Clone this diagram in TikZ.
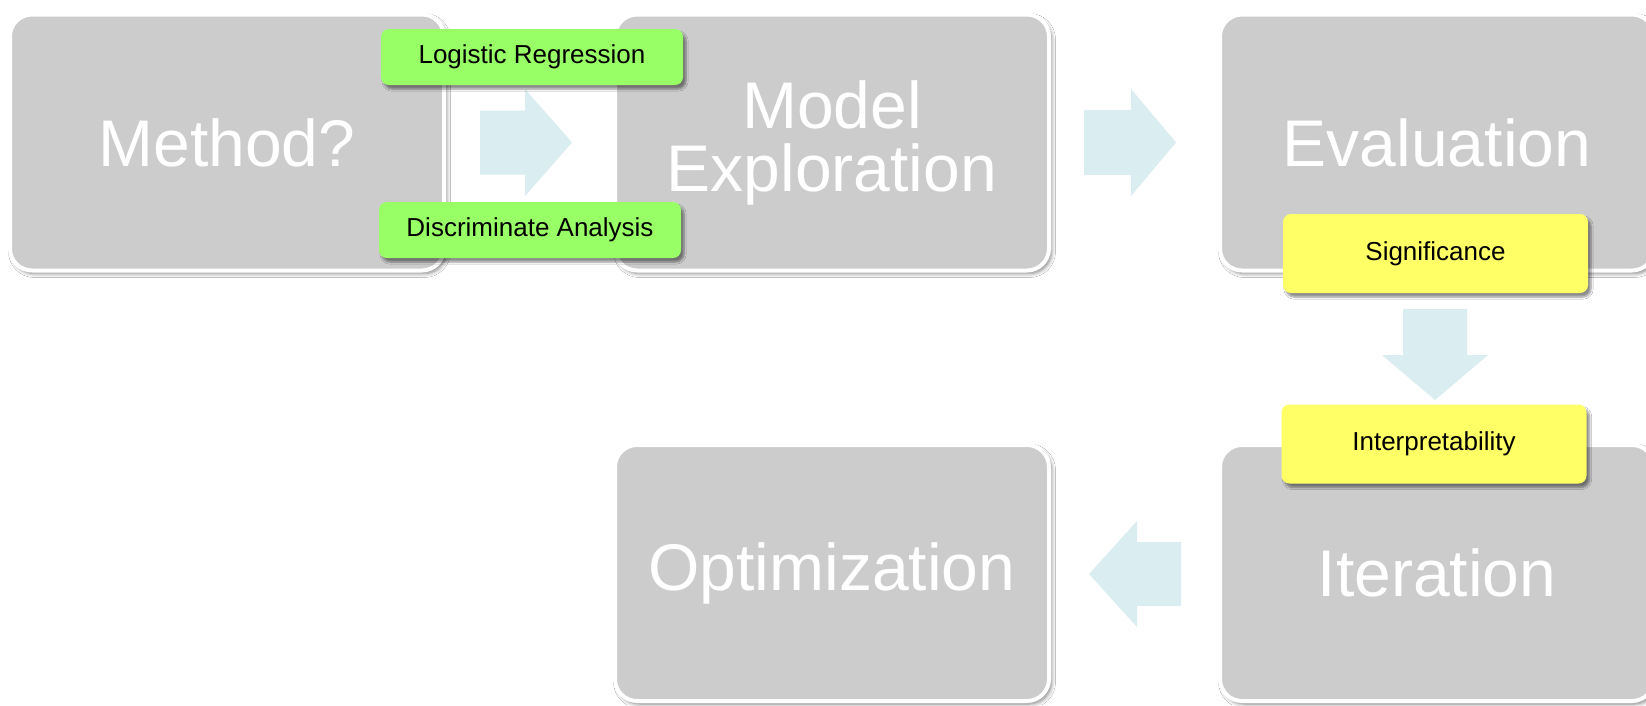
\documentclass[tikz,border=0pt]{standalone}
\usepackage{fontspec}
\setmainfont{Liberation Sans}
\usetikzlibrary{shadows.blur}
\definecolor{boxgray}{RGB}{204,204,204}
\definecolor{taggreen}{RGB}{153,255,102}
\definecolor{tagyellow}{RGB}{255,255,102}
\definecolor{arrowblue}{RGB}{218,237,240}
\tikzset{
  stage/.style={rectangle, rounded corners=22pt, fill=boxgray, draw=white, line width=4pt,
    minimum width=434pt, minimum height=256pt, inner sep=0pt, text=white, align=center,
    font=\fontsize{66}{63}\selectfont,
    blur shadow={shadow xshift=2.5pt, shadow yshift=-3pt, shadow opacity=50, shadow blur steps=6,
      shadow blur radius=4pt, shadow blur extra rounding=2pt}},
  tag/.style={rectangle, rounded corners=8pt, minimum width=302pt, minimum height=56pt,
    inner sep=0pt, text=black, font=\fontsize{26}{30}\selectfont,
    blur shadow={shadow xshift=3pt, shadow yshift=-4pt, shadow opacity=45, shadow blur steps=6}},
  greentag/.style={tag, fill=taggreen},
  yellowtag/.style={tag, fill=tagyellow, minimum width=305pt, minimum height=79pt},
  flow/.style={fill=arrowblue}
}
\begin{document}
\begin{tikzpicture}[x=1pt,y=-1pt]
\useasboundingbox (0,0) rectangle (1646,705);
\clip (0,0) rectangle (1646,705);
\fill[white] (0,0) rectangle (1646,705);
% stages
\node[stage] (method) at (227,142.5) {Method?};
\node[stage] (model) at (832,142.5) {Model\\Exploration};
\node[stage] (eval) at (1437,142.5) {Evaluation};
\node[stage] (opt) at (832,573) {Optimization};
\node[stage] (iter) at (1437,573) {Iteration};
% block arrows
\fill[flow] (480,110.5) -- (525,110.5) -- (525,89) -- (572,142.5) -- (525,196) -- (525,174.5) -- (480,174.5) -- cycle;
\fill[flow] (1084,110) -- (1131,110) -- (1131,89) -- (1176,142.5) -- (1131,196) -- (1131,175) -- (1084,175) -- cycle;
\fill[flow] (1403,309) -- (1467,309) -- (1467,355) -- (1488,355) -- (1435,400) -- (1382,355) -- (1403,355) -- cycle;
\fill[flow] (1181,542) -- (1137,542) -- (1137,521) -- (1089,574) -- (1137,627) -- (1137,606) -- (1181,606) -- cycle;
% tags
\node[greentag] (logreg) at (532,57) {Logistic Regression};
\node[greentag] (disc) at (530,230) {Discriminate Analysis};
\node[yellowtag] (sig) at (1435.5,253.5) {Significance};
\node[yellowtag] (interp) at (1434,444) {Interpretability};
\end{tikzpicture}
\end{document}
